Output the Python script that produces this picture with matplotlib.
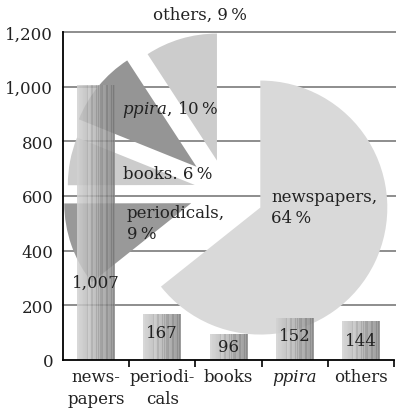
import numpy as np
import matplotlib
matplotlib.use("Agg")
import matplotlib.pyplot as plt

# ---- data ----
categories = ["news-\npapers", "periodi-\ncals", "books", "ppira", "others"]
values = [1007, 167, 96, 152, 144]
value_labels = ["1,007", "167", "96", "152", "144"]
value_label_y = [285, 102, 51, 91, 73]
pie_labels = ["newspapers,\n64\u2009%", "periodicals,\n9\u2009%", "books. 6\u2009%",
              "$\\mathit{ppira}$, 10\u2009%", "others, 9\u2009%"]
y_ticks = [0, 200, 400, 600, 800, 1000, 1200]
y_tick_labels = ["0", "200", "400", "600", "800", "1,000", "1,200"]

plt.rcParams['font.family'] = ['DejaVu Serif']
plt.rcParams['mathtext.fontset'] = 'custom'
plt.rcParams['mathtext.it'] = 'DejaVu Serif:italic'
plt.rcParams['mathtext.rm'] = 'DejaVu Serif'

W, H = 396, 410
fig = plt.figure(figsize=(W / 100, H / 100), dpi=100)
pos = [63 / W, 49 / H, 331 / W, 328 / H]
TXT = '#222222'

# background grid axes
ax_bg = fig.add_axes(pos, zorder=0)
ax_bg.set_xlim(-0.5, 4.5)
ax_bg.set_ylim(0, 1200)
for yv in y_ticks[1:]:
    ax_bg.axhline(yv, xmin=0, xmax=1.01, color='#858585', lw=1.3, clip_on=False)
ax_bg.axis('off')

# pie axes (pixel coordinates)
ax_pie = fig.add_axes([0, 0, 1, 1], zorder=1)
r = 127
explode_frac = [0.3, 0.29, 0.25, 0.3, 0.25]
pie_colors = ['#d9d9d9', '#999999', '#cccccc', '#959595', '#cccccc']
ax_pie.pie(values, colors=pie_colors, startangle=90, counterclock=False, radius=r,
           center=(226, H - 192), explode=[f * r for f in explode_frac],
           wedgeprops=dict(linewidth=0))
ax_pie.set_xlim(0, W)
ax_pie.set_ylim(0, H)
ax_pie.set_aspect('auto')
ax_pie.axis('off')
label_pos = [(271, 208), (127, 224), (123, 175), (122, 110), (153, 15)]
for lab, (lx, ly) in zip(pie_labels, label_pos):
    ax_pie.text(lx, H - ly, lab, ha='left', va='center', fontsize=12,
                color=TXT, linespacing=1.35)

# main bar axes
ax = fig.add_axes(pos, zorder=2)
ax.patch.set_alpha(0)
x = np.arange(len(values))
bars = ax.bar(x, values, width=0.57, color='none', edgecolor='none')

n = 48
base = np.linspace(0.82, 0.50, n)
idx = np.arange(n)
stripes = np.where(idx > n // 4, 0.045 * np.sign(np.sin(idx * 2.3)), 0.0)
grad = np.clip(base + stripes, 0, 1)[None, :]
for b in bars:
    x0, w, h = b.get_x(), b.get_width(), b.get_height()
    im = ax.imshow(grad, extent=[x0, x0 + w, 0, h], aspect='auto', cmap='gray',
                   vmin=0, vmax=1, alpha=0.85, zorder=2, interpolation='nearest')
    im.set_clip_path(b)

for xi, lab, ly in zip(x, value_labels, value_label_y):
    ax.text(xi, ly, lab, ha='center', va='center', fontsize=12, color=TXT, zorder=4)

ax.set_xlim(-0.5, 4.5)
ax.set_ylim(0, 1200)
ax.set_yticks(y_ticks)
ax.set_yticklabels(y_tick_labels, fontsize=12, color=TXT)
ax.set_xticks(x)
ax.set_xticklabels(categories, fontsize=12, color=TXT, linespacing=1.35)
ax.get_xticklabels()[3].set_style('italic')
ax.set_xticks(x + 0.5, minor=True)
ax.tick_params(axis='x', which='major', length=0, pad=6)
ax.tick_params(axis='x', which='minor', length=5, width=1.2, direction='out')
ax.tick_params(axis='y', length=0, pad=7)
for s in ['top', 'right']:
    ax.spines[s].set_visible(False)
for s in ['left', 'bottom']:
    ax.spines[s].set_linewidth(1.3)
    ax.spines[s].set_color('black')

fig.savefig('out.png', dpi=100)
